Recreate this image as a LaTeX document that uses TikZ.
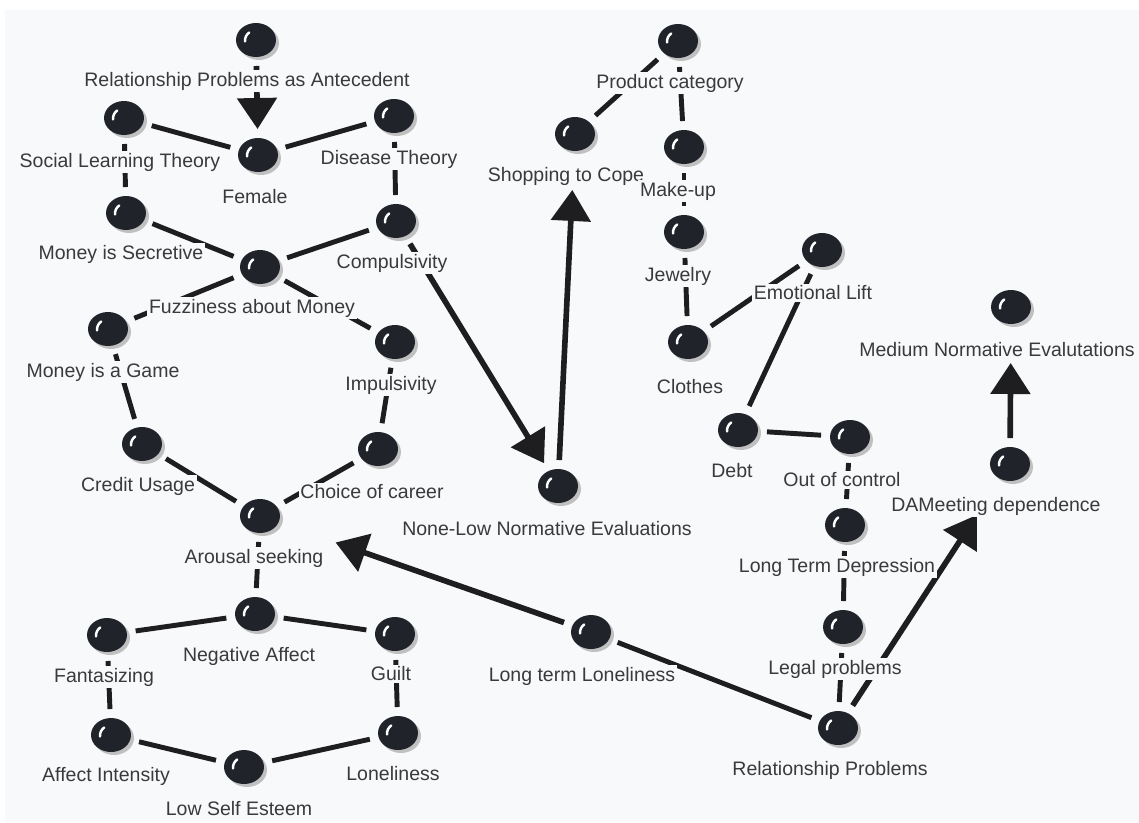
\documentclass[tikz,border=0pt]{standalone}
\usepackage{fontspec}
\setmainfont{Liberation Sans}
\usetikzlibrary{arrows.meta,shapes.geometric,shadows}
\definecolor{bgcol}{RGB}{248,249,251}
\definecolor{ballfill}{RGB}{33,35,43}
\definecolor{linecol}{RGB}{30,30,32}
\definecolor{textcol}{RGB}{58,58,60}
\newcommand{\mapScale}{0.02cm}

\begin{document}
\begin{tikzpicture}[x=\mapScale, y=-\mapScale]
  \tikzset{
    ball/.style={ellipse, fill=ballfill, minimum width=0.8cm, minimum height=0.68cm,
      inner sep=0pt, outer sep=0.18cm,
      drop shadow={shadow xshift=0.06cm, shadow yshift=-0.06cm, fill=black!30, opacity=0.8},
      path picture={\draw[white, line width=1.4pt, line cap=round]
        (path picture bounding box.center) ++(-0.22cm,-0.03cm)
        arc[start angle=185, end angle=125, radius=0.2cm];}},
    lbl/.style={fill=bgcol, inner sep=1pt, text=textcol,
      font=\fontsize{11.1pt}{13pt}\selectfont},
    link/.style={draw=linecol, line width=2.8pt},
    cause/.style={draw=linecol, line width=3.2pt,
      -{Triangle[width=0.78cm, length=0.62cm]}}
  }
  \useasboundingbox (0,0) rectangle (1139,822);
  \fill[white] (0,0) rectangle (1139,822);
  \fill[bgcol] (5,10) rectangle (1139,822);

  % concepts
  \node[ball] (ant) at (256,40) {};
  \node[ball] (female) at (258,155) {};
  \node[ball] (slt) at (124,118) {};
  \node[ball] (disease) at (394,116) {};
  \node[ball] (secretive) at (126,213) {};
  \node[ball] (compuls) at (396,221) {};
  \node[ball] (fuzzy) at (260,267) {};
  \node[ball] (game) at (108,329) {};
  \node[ball] (impuls) at (395,342) {};
  \node[ball] (credit) at (142,444) {};
  \node[ball] (career) at (378,449) {};
  \node[ball] (arousal) at (260,516) {};
  \node[ball] (negaff) at (255,614) {};
  \node[ball] (fantasy) at (107,635) {};
  \node[ball] (guilt) at (395,634) {};
  \node[ball] (intens) at (111,735) {};
  \node[ball] (esteem) at (244,767) {};
  \node[ball] (lonely) at (398,733) {};
  \node[ball] (shop) at (575,134) {};
  \node[ball] (product) at (678,41) {};
  \node[ball] (makeup) at (684,147) {};
  \node[ball] (jewel) at (684,232) {};
  \node[ball] (clothes) at (688,342) {};
  \node[ball] (lift) at (822,250) {};
  \node[ball] (debt) at (738,430) {};
  \node[ball] (outctl) at (850,437) {};
  \node[ball] (depress) at (845,525) {};
  \node[ball] (legal) at (843,627) {};
  \node[ball] (relprob) at (838,728) {};
  \node[ball] (ltlonely) at (591,632) {};
  \node[ball] (nonelow) at (558,486) {};
  \node[ball] (medium) at (1011,307) {};
  \node[ball] (dam) at (1010,464) {};

  % links
  \draw[link] (slt) -- (female);
  \draw[link] (female) -- (disease);
  \draw[link] (slt) -- (secretive);
  \draw[link] (disease) -- (compuls);
  \draw[link] (secretive) -- (fuzzy);
  \draw[link] (compuls) -- (fuzzy);
  \draw[link] (fuzzy) -- (game);
  \draw[link] (fuzzy) -- (impuls);
  \draw[link] (game) -- (credit);
  \draw[link] (impuls) -- (career);
  \draw[link] (credit) -- (arousal);
  \draw[link] (career) -- (arousal);
  \draw[link] (arousal) -- (negaff);
  \draw[link] (negaff) -- (fantasy);
  \draw[link] (negaff) -- (guilt);
  \draw[link] (fantasy) -- (intens);
  \draw[link] (guilt) -- (lonely);
  \draw[link] (intens) -- (esteem);
  \draw[link] (esteem) -- (lonely);
  \draw[link] (shop) -- (product);
  \draw[link] (product) -- (makeup);
  \draw[link] (makeup) -- (jewel);
  \draw[link] (jewel) -- (clothes);
  \draw[link] (clothes) -- (lift);
  \draw[link] (lift) -- (debt);
  \draw[link] (debt) -- (outctl);
  \draw[link] (outctl) -- (depress);
  \draw[link] (depress) -- (legal);
  \draw[link] (legal) -- (relprob);
  \draw[link] (relprob) -- (ltlonely);

  % causal arrows
  \draw[cause] (ant) -- (female);
  \draw[cause] (compuls) -- (nonelow);
  \draw[cause, shorten >=0.6cm] (nonelow) -- (shop);
  \draw[cause, shorten >=1.03cm] (ltlonely) -- (arousal);
  \draw[cause, shorten >=0.68cm] (relprob) -- (dam);
  \draw[cause, shorten >=0.6cm] (dam) -- (medium);

  % labels
  \node[lbl] (ant-l) at (247,81) {Relationship Problems as Antecedent};
  \node[lbl] (female-l) at (255,197) {Female};
  \node[lbl] (slt-l) at (120,162) {Social Learning Theory};
  \node[lbl] (disease-l) at (389,159) {Disease Theory};
  \node[lbl] (secretive-l) at (121,254) {Money is Secretive};
  \node[lbl] (compuls-l) at (392,263) {Compulsivity};
  \node[lbl] (fuzzy-l) at (252,308) {Fuzziness about Money};
  \node[lbl] (game-l) at (103,372) {Money is a Game};
  \node[lbl] (impuls-l) at (391,385) {Impulsivity};
  \node[lbl] (credit-l) at (138,486) {Credit Usage};
  \node[lbl] (career-l) at (372,492) {Choice of career};
  \node[lbl] (arousal-l) at (254,558) {Arousal seeking};
  \node[lbl] (negaff-l) at (249,656) {Negative Affect};
  \node[lbl] (fantasy-l) at (104,677) {Fantasizing};
  \node[lbl] (guilt-l) at (391,674) {Guilt};
  \node[lbl] (intens-l) at (106,776) {Affect Intensity};
  \node[lbl] (esteem-l) at (239,809) {Low Self Esteem};
  \node[lbl] (lonely-l) at (393,774) {Loneliness};
  \node[lbl] (shop-l) at (566,176) {Shopping to Cope};
  \node[lbl] (product-l) at (670,83) {Product category};
  \node[lbl] (makeup-l) at (678,191) {Make-up};
  \node[lbl] (jewel-l) at (678,276) {Jewelry};
  \node[lbl] (clothes-l) at (690,387) {Clothes};
  \node[lbl] (lift-l) at (813,293) {Emotional Lift};
  \node[lbl] (debt-l) at (732,471) {Debt};
  \node[lbl] (outctl-l) at (842,480) {Out of control};
  \node[lbl] (depress-l) at (837,567) {Long Term Depression};
  \node[lbl] (legal-l) at (835,669) {Legal problems};
  \node[lbl] (relprob-l) at (830,770) {Relationship Problems};
  \node[lbl] (ltlonely-l) at (582,676) {Long term Loneliness};
  \node[lbl] (nonelow-l) at (547,529) {None-Low Normative Evaluations};
  \node[lbl] (medium-l) at (997,350) {Medium Normative Evalutations};
  \node[lbl] (dam-l) at (996,506) {DAMeeting dependence};
\end{tikzpicture}
\end{document}
